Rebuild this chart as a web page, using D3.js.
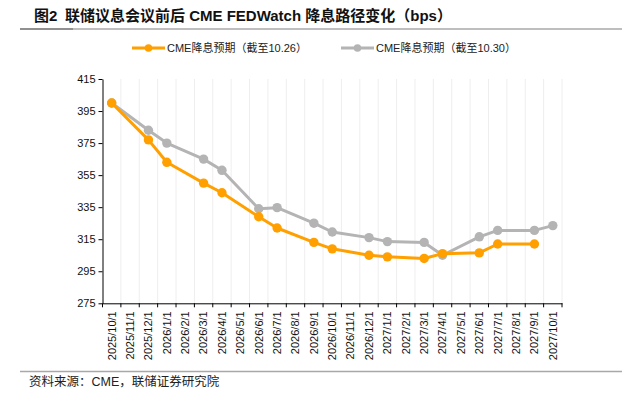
<!DOCTYPE html>
<html>
<head>
<meta charset="utf-8">
<script src="https://cdn.jsdelivr.net/npm/d3@7"></script>
<style>
  body { margin: 0; background: #fff; }
  svg { display: block; }
</style>
</head>
<body>
<div id="chart"></div>
<script>
// categories (monthly, category axis)
const months = ["2025/10/1","2025/11/1","2025/12/1","2026/1/1","2026/2/1","2026/3/1","2026/4/1","2026/5/1",
  "2026/6/1","2026/7/1","2026/8/1","2026/9/1","2026/10/1","2026/11/1","2026/12/1","2027/1/1","2027/2/1",
  "2027/3/1","2027/4/1","2027/5/1","2027/6/1","2027/7/1","2027/8/1","2027/9/1","2027/10/1"];

// CME expectation as of 10.26 (null = no meeting that month)
const cme1026 = [400, null, 377, 363, null, 350, 344, null, 329, 322, null, 313, 309, null, 305, 304, null,
  303, 306, null, 306.5, 312, null, 312, null];
// CME expectation as of 10.30
const cme1030 = [400, null, 383, 375, null, 365, 358, null, 334, 334.7, null, 325, 319.5, null, 316, 313.5, null,
  313, 305, null, 316.5, 320.5, null, 320.5, 323.5];

const yTicks = [275, 295, 315, 335, 355, 375, 395, 415];

const seriesNames = ["CME降息预期（截至10.26）", "CME降息预期（截至10.30）"];
const seriesColors = ["#FFA000", "#B4B4B4"];

const W = 634, H = 404;
const margin = {top: 79, left: 102.5, right: 72, bottom: 100.7};
const width = W - margin.left - margin.right;
const height = H - margin.top - margin.bottom;

const svg = d3.select("#chart").append("svg")
  .attr("width", W).attr("height", H);

// title
svg.append("text")
  .attr("x", 34).attr("y", 21)
  .style("font-family", "'Liberation Sans', 'Noto Sans CJK SC', sans-serif")
  .style("font-weight", "bold").style("font-size", "15px").style("fill", "#111")
  .text("图2");
svg.append("text")
  .attr("x", 65).attr("y", 21)
  .style("font-family", "'Liberation Sans', 'Noto Sans CJK SC', sans-serif")
  .style("font-weight", "bold").style("font-size", "15px").style("fill", "#111")
  .text("联储议息会议前后 CME FEDWatch 降息路径变化（bps）");

// rules
svg.append("line").attr("x1", 20).attr("x2", 622).attr("y1", 29).attr("y2", 29)
  .style("stroke", "#a8a8a8").style("stroke-width", 1.3);
svg.append("line").attr("x1", 20).attr("x2", 73).attr("y1", 29).attr("y2", 29)
  .style("stroke", "#808080").style("stroke-width", 1.3);
svg.append("line").attr("x1", 20).attr("x2", 622).attr("y1", 371.5).attr("y2", 371.5)
  .style("stroke", "#a8a8a8").style("stroke-width", 1.3);

// source
svg.append("text")
  .attr("x", 29).attr("y", 385.5)
  .style("font-family", "'Liberation Sans', 'Noto Sans CJK SC', sans-serif")
  .style("font-size", "12.5px").style("fill", "#222")
  .text("资料来源：CME，联储证券研究院");

// legend
const legendX = [132, 341];
seriesNames.forEach(function(name, i) {
  const lg = svg.append("g").attr("transform", `translate(${legendX[i]}, 48)`);
  lg.append("line").attr("x1", 0).attr("x2", 33).attr("y1", 0).attr("y2", 0)
    .style("stroke", seriesColors[i]).style("stroke-width", 3);
  lg.append("circle").attr("cx", 16.5).attr("cy", 0).attr("r", 3.8)
    .style("fill", seriesColors[i]);
  lg.append("text").attr("x", 35).attr("y", 4)
    .style("font-family", "'Liberation Sans', 'Noto Sans CJK SC', sans-serif")
    .style("font-size", "11px").style("fill", "#222")
    .text(name);
});

const g = svg.append("g").attr("transform", `translate(${margin.left}, ${margin.top})`);

const x = d3.scaleBand().domain(months).range([0, width]).padding(0);
const y = d3.scaleLinear().domain([275, 415]).range([height, 0]);

// vertical gridlines at category boundaries
g.append("g").selectAll("line")
  .data(months)
  .join("line")
    .attr("x1", d => x(d) + x.bandwidth())
    .attr("x2", d => x(d) + x.bandwidth())
    .attr("y1", 0).attr("y2", height)
    .style("stroke", "#eeeeee").style("stroke-width", 1);

// y axis
const yAxis = g.append("g")
  .call(d3.axisLeft(y).tickValues(yTicks).tickSize(4).tickSizeOuter(0));
yAxis.select(".domain").style("stroke", "#000");
yAxis.selectAll(".tick line").style("stroke", "#000");
yAxis.selectAll("text")
  .style("font-family", "'Liberation Sans', Arial, sans-serif")
  .style("font-size", "11px").style("fill", "#111")
  .attr("x", -7);

// x axis
const xAxis = g.append("g")
  .attr("transform", `translate(0, ${height})`)
  .call(d3.axisBottom(x).tickSize(0).tickSizeOuter(0));
xAxis.select(".domain").style("stroke", "#000");
xAxis.selectAll("text")
  .style("font-family", "'Liberation Sans', Arial, sans-serif")
  .style("font-size", "11px").style("fill", "#111")
  .attr("transform", "rotate(-90)")
  .attr("x", -8).attr("y", 0).attr("dy", "0.35em")
  .style("text-anchor", "end");
// boundary ticks
g.append("g").attr("transform", `translate(0, ${height})`)
  .selectAll("line")
  .data([months[0]].concat(months))
  .join("line")
    .attr("x1", (d, i) => i === 0 ? 0 : x(d) + x.bandwidth())
    .attr("x2", (d, i) => i === 0 ? 0 : x(d) + x.bandwidth())
    .attr("y1", 0).attr("y2", 4)
    .style("stroke", "#000");

// lines
const line = d3.line()
  .x(d => x(d.m) + x.bandwidth() / 2)
  .y(d => y(d.v));

const allSeries = [cme1026, cme1030];
[1, 0].forEach(function(i) {
  const vals = allSeries[i];
  const pts = months.map((m, k) => ({m: m, v: vals[k]})).filter(d => d.v !== null);
  g.append("path")
    .attr("d", line(pts))
    .style("fill", "none")
    .style("stroke", seriesColors[i])
    .style("stroke-width", 3)
    .style("stroke-linejoin", "round");
  g.append("g").selectAll("circle")
    .data(pts)
    .join("circle")
      .attr("cx", d => x(d.m) + x.bandwidth() / 2)
      .attr("cy", d => y(d.v))
      .attr("r", 4.7)
      .style("fill", seriesColors[i]);
});
</script>
</body>
</html>
